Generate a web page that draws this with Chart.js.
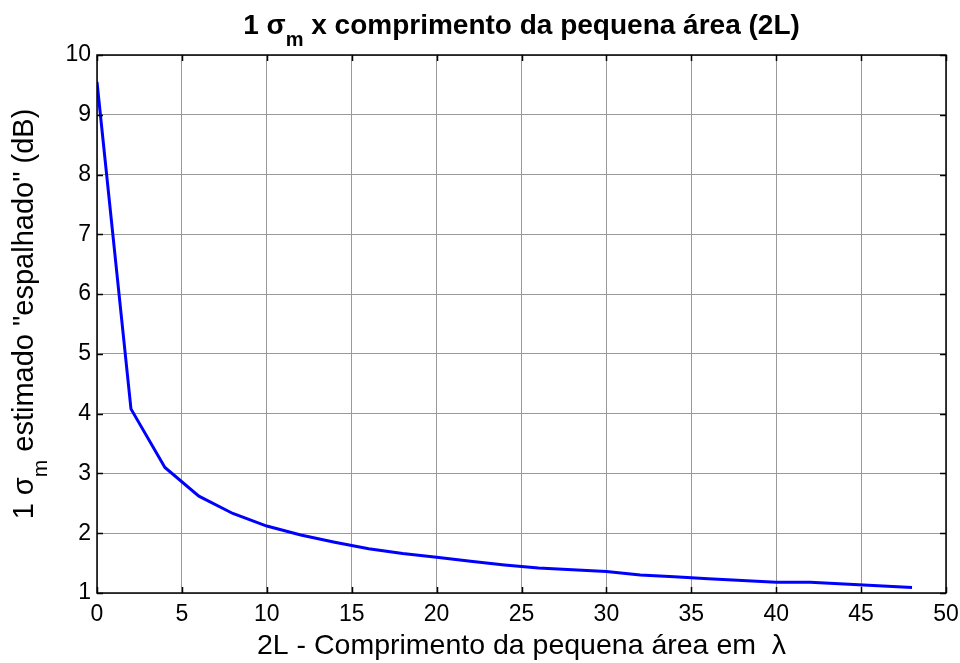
<!DOCTYPE html>
<html>
<head>
<meta charset="utf-8">
<script src="https://cdn.jsdelivr.net/npm/chart.js@4.4.1/dist/chart.umd.min.js"></script>
<style>
  html, body { margin: 0; padding: 0; background: #ffffff; }
  #wrap { width: 960px; height: 663px; }
</style>
</head>
<body>
<div id="wrap"><canvas id="c" width="960" height="663"></canvas></div>
<script>
// Small-area length 2L (in wavelengths) and the estimated 1-sigma spread (dB)
const lengths2L = [0, 2, 4, 6, 8, 10, 12, 14, 16, 18, 20, 22, 24, 26, 28, 30, 32, 34, 36, 38, 40, 42, 44, 46, 48];
const sigmaDb   = [9.55, 4.08, 3.10, 2.62, 2.33, 2.12, 1.97, 1.85, 1.74, 1.66, 1.60, 1.53, 1.47, 1.42, 1.39, 1.36, 1.30, 1.27, 1.24, 1.21, 1.18, 1.18, 1.15, 1.12, 1.09];

// Axis tick values
const xTicks = [0, 5, 10, 15, 20, 25, 30, 35, 40, 45, 50];
const yTicks = [1, 2, 3, 4, 5, 6, 7, 8, 9, 10];

const FONT = "'Liberation Sans', Arial, sans-serif";

const points = lengths2L.map((x, i) => ({ x: x, y: sigmaDb[i] }));

// Draws a run of [text, font, baselineOffset] parts centred on cx
function drawRun(ctx, parts, cx, base) {
  let total = 0;
  const widths = parts.map(p => { ctx.font = p[1]; const w = ctx.measureText(p[0]).width; total += w; return w; });
  let x = cx - total / 2;
  parts.forEach((p, i) => { ctx.font = p[1]; ctx.fillText(p[0], x, base + p[2]); x += widths[i]; });
}

// Draws the box, inward tick marks on all four sides, and the texts with subscripts
const decorations = {
  id: 'decorations',
  afterDraw(chart) {
    const ctx = chart.ctx;
    const a = chart.chartArea;
    const xs = chart.scales.x, ys = chart.scales.y;
    ctx.save();
    // tick marks
    ctx.strokeStyle = '#000';
    ctx.lineWidth = 1.5;
    const tl = 6;
    ctx.beginPath();
    xTicks.forEach(v => {
      const px = Math.round(xs.getPixelForValue(v)) + 0.5;
      ctx.moveTo(px, a.bottom); ctx.lineTo(px, a.bottom - tl);
      ctx.moveTo(px, a.top); ctx.lineTo(px, a.top + tl);
    });
    yTicks.forEach(v => {
      const py = Math.round(ys.getPixelForValue(v)) + 0.5;
      ctx.moveTo(a.left, py); ctx.lineTo(a.left + tl, py);
      ctx.moveTo(a.right, py); ctx.lineTo(a.right - tl, py);
    });
    ctx.stroke();
    // box
    ctx.lineWidth = 1.5;
    ctx.strokeRect(a.left, a.top, a.right - a.left, a.bottom - a.top);

    ctx.fillStyle = '#000';
    ctx.textBaseline = 'alphabetic';
    ctx.textAlign = 'left';
    const cx = (a.left + a.right) / 2;

    // title: 1 σ_m x comprimento da pequena área (2L)
    drawRun(ctx, [
      ['1 \u03C3', 'bold 28px ' + FONT, 0],
      ['m', 'bold 20px ' + FONT, 12],
      [' x comprimento da pequena \u00E1rea (2L)', 'bold 28px ' + FONT, 0]
    ], cx, 34);

    // x axis label
    drawRun(ctx, [['2L - Comprimento da pequena \u00E1rea em  \u03BB', '28.5px ' + FONT, 0]], cx, 654);

    // y axis label (rotated): 1 σ_m estimado "espalhado" (dB)
    ctx.translate(33, (a.top + a.bottom) / 2);
    ctx.rotate(-Math.PI / 2);
    drawRun(ctx, [
      ['1 \u03C3', '29px ' + FONT, 0],
      ['m', '21px ' + FONT, 14],
      [' estimado "espalhado" (dB)', '29px ' + FONT, 0]
    ], 10, 0);
    ctx.restore();
  }
};

new Chart(document.getElementById('c'), {
  type: 'line',
  data: {
    datasets: [{
      data: points,
      borderColor: '#0000ff',
      borderWidth: 3,
      pointRadius: 0,
      fill: false,
      tension: 0
    }]
  },
  options: {
    responsive: false,
    animation: false,
    layout: { padding: { top: 55, right: 14, left: 0, bottom: 0 } },
    plugins: { legend: { display: false }, title: { display: false }, tooltip: { enabled: false } },
    scales: {
      x: {
        type: 'linear',
        min: 0, max: 50,
        afterBuildTicks: s => { s.ticks = xTicks.map(v => ({ value: v })); },
        afterFit: s => { s.height = 70; s.paddingLeft = 0; s.paddingRight = 0; },
        grid: { color: '#9a9a9a', lineWidth: 1, drawTicks: false },
        border: { display: false },
        ticks: { color: '#000', font: { family: FONT, size: 23 }, padding: 8, maxRotation: 0 }
      },
      y: {
        type: 'linear',
        min: 1, max: 10,
        afterBuildTicks: s => { s.ticks = yTicks.map(v => ({ value: v })); },
        afterFit: s => { s.width = 97; s.paddingTop = 0; s.paddingBottom = 0; },
        grid: { color: '#9a9a9a', lineWidth: 1, drawTicks: false },
        border: { display: false },
        ticks: { color: '#000', font: { family: FONT, size: 23 }, padding: 6 }
      }
    }
  },
  plugins: [decorations]
});
</script>
</body>
</html>
